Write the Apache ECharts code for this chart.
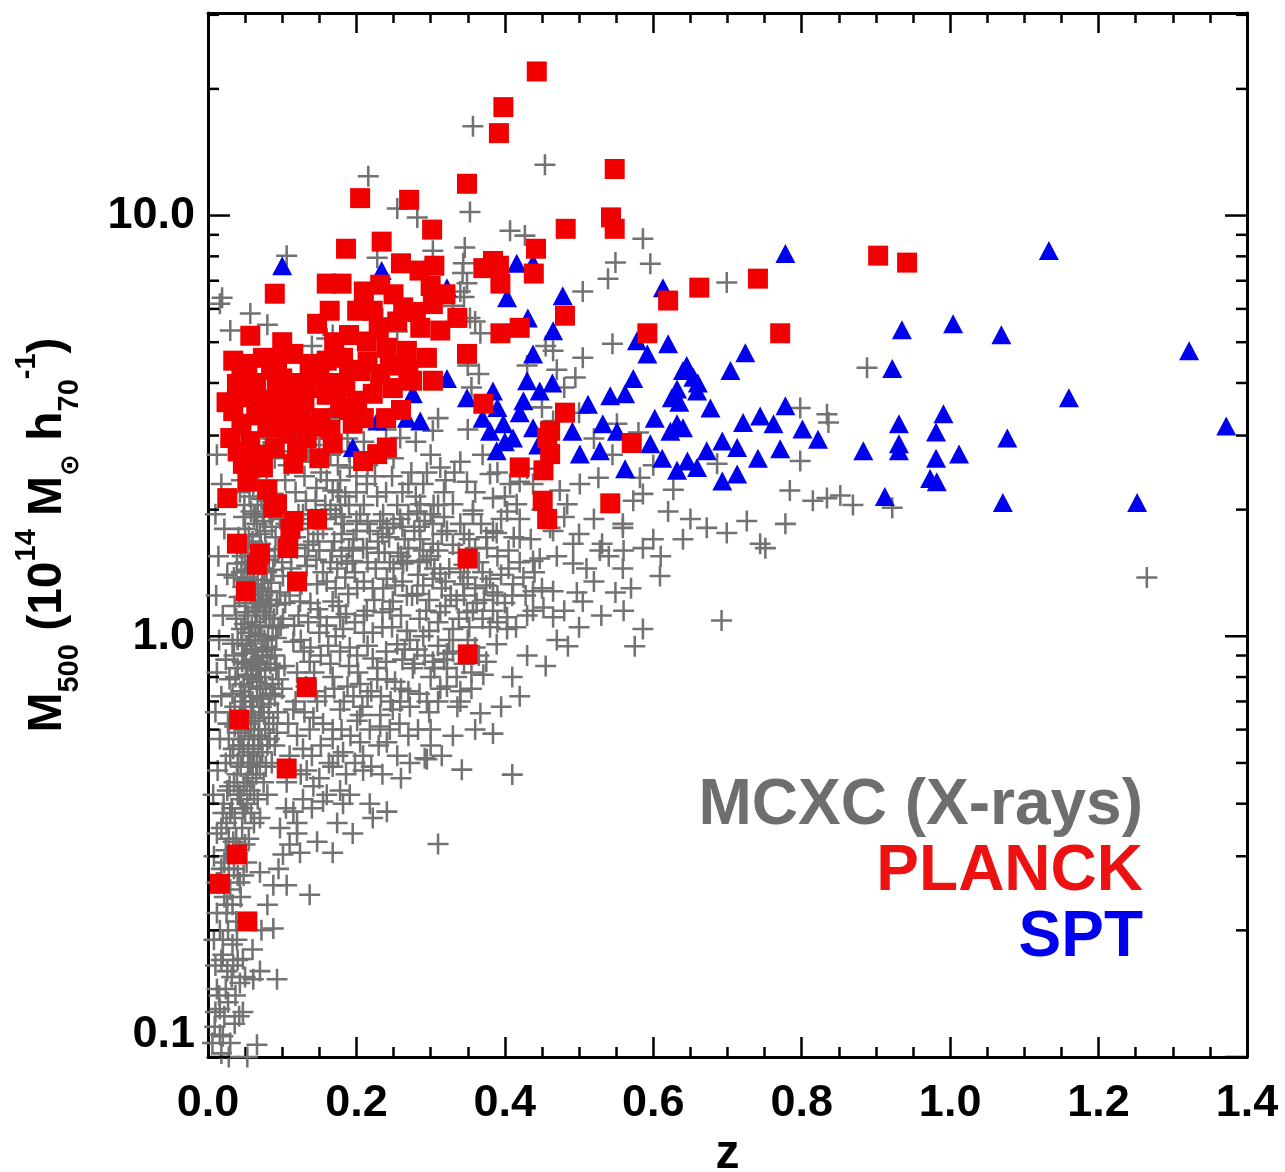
<!DOCTYPE html>
<html><head><meta charset="utf-8">
<script src="https://cdn.jsdelivr.net/npm/echarts@6/dist/echarts.min.js"></script>
<style>html,body{margin:0;padding:0;background:#fff}#c{width:1285px;height:1172px}</style>
</head><body><div id="c"></div>
<script>
// ---- axis settings / tick values ----
const xRange = [0, 1.4];
const xTickStep = 0.2;
const yRange = [0.1, 30.3];
const yMajorTickValues = [0.1, 1, 10];
const yMinorTickValues = [0.2,0.3,0.4,0.5,0.6,0.7,0.8,0.9,2,3,4,5,6,7,8,9,20,30];
const legendLabels = ['MCXC (X-rays)', 'PLANCK', 'SPT'];

// ---- MCXC (X-ray) clusters: [z, M500] ----
const mcxcHigh = [[0.216,12.4],[0.357,16.3],[0.454,13.2],[0.255,10.4],[0.282,9.9],[0.353,10.2],[0.407,9.2],[0.427,8.96],[0.346,8.4],[0.344,7.7],[0.349,6.9],[0.303,8.25],[0.228,7.94],[0.505,6.6],[0.106,8.03],[0.019,6.38],[0.586,8.81],[0.549,7.73],[0.596,7.68],[0.539,7.08],[0.699,6.93],[0.343,7.3],[0.345,6.4],
[0.160,5.1],[0.057,5.85],[0.030,5.33],[0.016,6.17],[0.353,5.71],[0.367,5.25],[0.235,5.7],[0.255,5.3],[0.168,5.2],[0.34,6.6],[0.33,6.1],[0.36,5.6],[0.26,4.4],[0.14,4.9],[0.08,5.5],[0.35,4.4],[0.365,4.2],[0.355,3.9],[0.455,4.9],[0.47,4.3],[0.43,4.4],[0.45,3.5],[0.48,3.9],[0.5,3.4]];
const mcxcMid = [[0.545,4.96],[0.505,4.59],[0.495,4.12],[0.465,4.77],[0.888,4.35],[0.798,3.49],[0.834,3.37],[0.836,3.22],[0.798,2.61],[0.784,2.22],[0.815,2.10],[0.834,2.13],[0.852,2.16],[0.869,2.05],[0.778,1.85],[0.726,1.88],[0.699,1.76],[0.672,1.81],[0.526,2.38],[0.501,2.3],[0.686,2.57],[0.582,2.38],[0.586,2.18],[0.573,2.10],[0.627,2.23],[0.551,3.2],[0.474,2.22],[0.484,2.06],[0.465,1.78],[0.492,1.66],[0.531,1.66],[0.559,1.85],[0.744,1.66],[0.465,3.25],[0.922,2.02],[1.265,1.38],[0.692,1.09],[0.586,1.04],[0.575,0.947],[0.485,0.947],[0.549,1.27],[0.609,1.39],[0.586,1.62],[0.559,1.45],[0.528,1.6],[0.497,1.27],[0.505,1.21],[0.465,1.11],[0.438,1.15],[0.403,1.11],[0.389,0.957],[0.371,0.81],[0.340,0.70],[0.367,0.656],[0.384,0.587],[0.292,0.513],[0.342,0.482],[0.410,0.469],[0.447,1.53],[0.42,1.5],[0.492,1.49],[0.465,1.28],[0.411,1.33],[0.384,1.27],[0.349,1.14],[0.313,1.14],[0.322,0.84],[0.303,0.87],[0.282,0.93],[0.268,1.03],[0.245,1.16],[0.209,1.62],[0.263,1.49],[0.313,1.41],[0.290,1.6],[0.249,0.67],[0.232,0.61],[0.205,0.65],[0.255,0.52],[0.209,0.48],[0.191,0.42],[0.182,0.53],[0.228,0.79],[0.201,0.90],[0.178,1.11],[0.222,1.3],[0.187,1.49],[0.376,1.62],[0.389,1.76],[0.461,1.81],[0.559,1.81],[0.751,1.62],
[0.52,2.95],[0.545,2.7],[0.58,3.05],[0.6,2.55],
[0.42,1.9],[0.435,1.7],[0.45,2.0],[0.47,1.55],[0.48,1.92],[0.5,1.75],[0.51,1.45],[0.52,1.9],[0.54,1.55],[0.56,1.6],[0.57,1.3],[0.6,1.7],[0.61,1.55],[0.62,1.98],[0.64,1.7],[0.65,1.9],[0.45,1.3],[0.48,1.15],[0.5,1.05],[0.52,1.35],[0.53,1.12],[0.56,1.15],[0.47,0.98],[0.43,0.9],[0.455,0.85],[0.41,0.8],[0.42,0.72],[0.395,0.68],[0.36,0.6],[0.33,0.58],[0.3,0.55],[0.315,0.52]];
const mcxcCloud = [[0.214,1.62],[0.241,1.81],[0.282,1.98],[0.322,1.78],[0.303,1.66],[0.268,1.51],[0.241,1.37],[0.201,1.3],[0.168,1.21],[0.151,1.11],[0.182,1.04],[0.214,1.15],[0.249,1.21],[0.282,1.26],[0.303,1.37],[0.344,1.33],[0.380,1.37],[0.438,1.51],[0.420,1.71],[0.384,1.78],[0.403,1.98],[0.357,1.95],[0.191,0.94],[0.222,0.886],[0.255,0.957],[0.276,0.839],[0.241,0.79],[0.205,0.77],[0.168,0.80],[0.137,0.87],[0.115,0.97],[0.101,1.1],[0.124,1.21],[0.147,1.33],[0.174,1.45],[0.195,1.51],[0.178,0.67],[0.147,0.70],[0.115,0.67],[0.093,0.59],[0.137,0.6],[0.168,0.6],[0.201,0.63],[0.232,0.65],[0.259,0.70],[0.295,0.70],[0.313,0.75],[0.241,0.56],[0.209,0.52],[0.168,0.49],[0.133,0.48],[0.106,0.45],[0.142,0.44],[0.178,0.43],[0.295,0.51],[0.336,0.68],[0.322,0.91],[0.330,1.04],[0.357,1.15],[0.384,1.15],[0.403,1.04],[0.438,1.28],[0.452,1.17],
[0.259,2.96],[0.303,3.08],[0.313,2.52],[0.349,2.33],[0.380,2.43],[0.407,2.3],[0.330,2.06],[0.357,1.99],[0.286,2.06],[0.259,1.9],[0.303,1.85],[0.340,1.85],[0.214,2.3],[0.191,2.52],[0.168,2.22],[0.420,2.33],[0.438,2.3],[0.384,2.13],[0.416,2.06],
[0.098,2.9],[0.112,2.75],[0.126,2.6],[0.14,2.85],[0.152,2.45],[0.165,2.7],[0.178,2.35],[0.188,2.95],[0.104,2.35],[0.118,2.2],[0.132,2.1],[0.146,2.25],[0.158,2.05],[0.172,1.95],[0.185,2.15],[0.128,1.95],[0.108,2.55],[0.16,3.1],
[0.105,1.85],[0.118,1.72],[0.131,1.55],[0.142,1.68],[0.155,1.42],[0.167,1.6],[0.18,1.75],[0.112,1.45],[0.126,1.33],[0.138,1.2],[0.15,1.02],[0.162,0.95],[0.176,1.18],[0.189,1.26],[0.116,1.06],[0.129,0.92],[0.143,0.82],
[0.215,2.55],[0.228,2.15],[0.236,1.95],[0.248,2.4],[0.262,2.2],[0.274,2.45],[0.29,2.3],[0.304,2.05],[0.318,2.2],[0.332,2.45],[0.265,1.7],[0.278,1.78],[0.295,1.52],[0.31,1.6],[0.325,1.45],[0.338,1.58],[0.352,1.7],[0.365,1.5],[0.226,1.45],[0.238,1.58],[0.252,1.32],[0.283,1.4],[0.298,1.22],[0.327,1.25],[0.36,1.3],[0.372,1.22],
[0.21,1.02],[0.235,1.05],[0.262,0.88],[0.29,1.0],[0.31,0.95],[0.335,0.8],[0.35,0.98],[0.365,0.9],[0.38,1.05],[0.27,0.74],[0.3,0.8],[0.24,0.92],[0.215,0.72],[0.188,0.76],[0.355,0.75],
[0.122,1.95],[0.135,1.85],[0.148,1.75],[0.158,1.9],[0.17,1.68],[0.183,1.85],[0.196,1.7],[0.205,1.95],[0.218,1.78],[0.229,1.68],[0.244,1.72],[0.256,1.58],[0.27,1.62],[0.286,1.7],[0.3,1.55],[0.315,1.75],[0.33,1.65],[0.345,1.48],[0.36,1.62],[0.375,1.72],[0.39,1.55],[0.405,1.6],[0.12,1.62],[0.133,1.47],[0.146,1.52],[0.16,1.35],[0.172,1.3],[0.185,1.38],[0.198,1.42],[0.21,1.35],[0.224,1.22],[0.236,1.3],[0.25,1.45],[0.262,1.35],[0.275,1.25],[0.29,1.32],[0.305,1.45],[0.32,1.35],[0.335,1.22],[0.35,1.38],[0.37,1.42],[0.395,1.4],[0.41,1.25],[0.425,1.38],[0.44,1.42],[0.11,1.25],[0.122,1.12],[0.135,1.08],[0.148,1.16],[0.16,1.06],[0.172,1.0],[0.186,1.13],[0.198,1.08],[0.21,1.12],[0.222,1.02],[0.235,1.14],[0.248,1.05],[0.26,1.12],[0.272,0.98],[0.285,1.1],[0.298,1.03],[0.31,1.08],[0.325,0.98],[0.338,1.1],[0.352,1.05],[0.37,1.1],[0.39,1.08],[0.415,1.05],[0.43,1.12],[0.125,0.98],[0.138,0.94],[0.152,0.9],[0.165,0.86],[0.178,0.92],[0.19,0.85],[0.202,0.82],[0.215,0.95],[0.228,0.84],[0.24,0.87],[0.252,0.78],[0.265,0.93],[0.278,0.86],[0.292,0.9],[0.305,0.84],[0.318,0.88],[0.33,0.92],[0.345,0.86],[0.36,0.94],[0.375,0.87],[0.12,0.82],[0.132,0.76],[0.145,0.74],[0.158,0.72],[0.17,0.75],[0.183,0.7],[0.196,0.72],[0.208,0.68],[0.22,0.74],[0.233,0.72],[0.246,0.7],[0.26,0.75],[0.272,0.68],[0.285,0.73],[0.298,0.66],[0.31,0.7],[0.322,0.76],[0.34,0.74],[0.355,0.82],[0.118,0.7],[0.13,0.66],[0.142,0.64],[0.155,0.62],[0.168,0.57],[0.18,0.6],[0.192,0.58],[0.205,0.56],[0.218,0.6],[0.23,0.55],[0.245,0.6],[0.258,0.62],[0.27,0.58],[0.283,0.6],[0.3,0.6],[0.12,0.58],[0.128,0.54],[0.14,0.52],[0.152,0.55],[0.163,0.5],[0.175,0.52],[0.186,0.47],[0.198,0.5],[0.22,0.49],[0.235,0.47],[0.26,0.46],[0.272,0.5],[0.11,0.52],[0.125,0.47],[0.15,0.46],[0.16,0.42],[0.14,0.39],[0.128,0.41],[0.12,0.36],[0.105,0.39],[0.11,0.32],[0.095,0.28],[0.08,0.23],[0.072,0.2],[0.06,0.18],[0.05,0.155],[0.07,0.16],
[0.2,2.4],[0.25,2.65],[0.27,2.3],[0.3,2.7],[0.32,2.35],[0.34,2.6],[0.36,2.2],[0.37,2.7],[0.39,2.45],[0.4,2.15],[0.43,2.5],[0.35,3.1],[0.31,3.3],[0.28,2.9],[0.24,3.1],[0.21,2.9],
[0.262,1.82],[0.292,1.88],[0.318,1.92],[0.345,1.75],[0.368,1.85],[0.395,1.9],[0.412,1.72],[0.285,1.5],[0.315,1.3],[0.34,1.42],[0.362,1.2],[0.39,1.25],[0.405,1.45],[0.428,1.25],[0.268,1.25],[0.294,1.15],[0.32,1.18],[0.345,1.25],[0.375,1.32],[0.4,1.2],[0.232,1.88],[0.2,1.88],[0.178,2.05],[0.19,1.62],
[0.13,2.4],[0.145,2.1],[0.16,2.35],[0.175,2.2],[0.19,2.05],[0.2,2.2],[0.21,2.05],[0.225,2.4],[0.24,2.2],[0.255,2.05],[0.14,1.9],[0.155,1.8],[0.165,2.0],[0.18,1.92],[0.2,1.78],[0.215,1.85],[0.235,1.75],[0.25,1.85],[0.27,1.95],[0.285,1.82],[0.12,1.8],[0.135,1.65],[0.15,1.6],[0.165,1.5],[0.18,1.55],[0.195,1.6],[0.215,1.5],[0.23,1.58],[0.245,1.5],[0.26,1.55],[0.3,1.95],[0.28,2.15],[0.295,2.45],[0.31,2.05]];
const mcxcLow = [[0.310,0.321],[0.241,0.383],[0.222,0.37],[0.195,0.34],[0.168,0.306],[0.137,0.243],[0.093,0.153],[0.088,0.202],[0.047,0.128],[0.061,0.153],[0.043,0.15],[0.047,0.171],[0.016,0.113],[0.066,0.107],[0.016,0.13],[0.124,0.306],[0.101,0.303],[0.106,0.256],[0.088,0.256],[0.070,0.275],[0.147,0.325],[0.120,0.34],[0.097,0.35],[0.070,0.37],[0.115,0.383],[0.155,0.405],[0.182,0.40],[0.218,0.40],[0.174,0.36],[0.034,0.325],[0.026,0.23],[0.016,0.2],[0.039,0.19],[0.020,0.175],[0.030,0.38],[0.007,0.42],[0.043,0.42],[0.080,0.42],[0.053,0.1],
[0.008,0.3],[0.012,0.26],[0.008,0.19],[0.01,0.128],[0.006,0.108],[0.024,0.145],[0.034,0.165],[0.028,0.28],[0.012,0.34],[0.02,0.38]];
const mcxcColumn = [[0.052,2.45],[0.061,2.28],[0.072,2.12],[0.058,1.98],[0.066,1.85],[0.048,1.92],[0.077,1.78],[0.083,1.95],[0.091,1.72],[0.055,1.73],[0.044,1.62],[0.063,1.58],[0.071,1.66],[0.082,1.52],[0.095,1.61],[0.039,1.49],[0.052,1.44],[0.067,1.41],[0.076,1.36],[0.088,1.44],[0.101,1.39],[0.047,1.31],[0.058,1.26],[0.069,1.22],[0.081,1.28],[0.093,1.19],[0.036,1.18],[0.054,1.12],[0.064,1.08],[0.075,1.14],[0.087,1.05],[0.045,1.04],[0.057,0.98],[0.068,1.01],[0.079,0.94],[0.092,0.99],[0.033,0.96],[0.049,0.91],[0.061,0.88],[0.073,0.92],[0.084,0.86],[0.040,0.84],[0.053,0.81],[0.066,0.78],[0.077,0.83],[0.095,0.79],[0.029,0.79],[0.044,0.74],[0.057,0.72],[0.070,0.75],[0.082,0.69],[0.036,0.68],[0.050,0.66],[0.063,0.63],[0.075,0.66],[0.088,0.62],[0.027,0.62],[0.041,0.59],[0.055,0.57],[0.068,0.6],[0.080,0.55],[0.034,0.54],[0.047,0.52],[0.060,0.5],[0.073,0.53],[0.024,0.5],[0.039,0.47],[0.052,0.45],[0.065,0.47],[0.086,0.5],[0.029,0.44],[0.044,0.41],[0.057,0.43],[0.021,0.4],[0.036,0.37],[0.050,0.38],[0.062,0.36],[0.018,0.35],[0.028,0.33],[0.042,0.31],[0.055,0.33],[0.022,0.29],[0.035,0.28],[0.048,0.27],[0.015,0.26],[0.030,0.25],[0.044,0.24],[0.025,0.22],[0.038,0.21],[0.012,0.22],[0.020,0.19],[0.033,0.185],[0.010,0.165],[0.026,0.16],[0.037,0.14],[0.012,0.145],[0.022,0.125],[0.009,0.118],[0.030,0.108],[0.018,0.102],
[0.012,2.7],[0.018,2.3],[0.010,1.95],[0.022,1.8],[0.014,1.55],[0.026,1.4],[0.011,1.25],[0.020,1.12],[0.015,0.98],[0.024,0.88],[0.012,0.82],[0.018,0.72],[0.010,0.66],[0.016,0.57],[0.013,0.48],
[0.043,2.2],[0.067,2.05],[0.079,2.35],[0.088,2.18],[0.05,1.8],[0.06,1.68],[0.074,1.95],[0.086,1.82],[0.097,1.9],[0.041,1.72],[0.046,1.55],[0.056,1.5],[0.068,1.48],[0.078,1.6],[0.09,1.55],[0.035,1.38],[0.048,1.36],[0.061,1.33],[0.072,1.3],[0.085,1.34],[0.097,1.27],[0.042,1.24],[0.051,1.2],[0.063,1.17],[0.074,1.25],[0.082,1.18],[0.089,1.1],[0.038,1.1],[0.049,1.07],[0.059,1.05],[0.07,1.06],[0.081,1.0],[0.098,1.06],[0.04,0.98],[0.052,0.95],[0.064,0.93],[0.076,0.98],[0.086,0.93],[0.035,0.9],[0.046,0.87],[0.058,0.85],[0.069,0.84],[0.08,0.89],[0.092,0.84],[0.037,0.8],[0.048,0.77],[0.06,0.79],[0.071,0.8],[0.087,0.77],[0.033,0.73],[0.047,0.7],[0.061,0.68],[0.074,0.71],[0.09,0.72],[0.03,0.66],[0.043,0.64],[0.058,0.65],[0.069,0.64],[0.082,0.64],[0.036,0.61],[0.05,0.6],[0.062,0.58],[0.077,0.6],[0.028,0.57],[0.042,0.55],[0.054,0.53],[0.068,0.55],[0.083,0.57],[0.03,0.52],[0.044,0.49],[0.057,0.5],[0.07,0.49],[0.035,0.45],[0.048,0.44],[0.06,0.46],[0.075,0.45],[0.026,0.43],[0.04,0.42],[0.053,0.4],[0.067,0.41],[0.032,0.39],[0.046,0.35],[0.058,0.38],[0.025,0.36],[0.038,0.33],[0.05,0.32],[0.024,0.31],[0.04,0.27],[0.052,0.29],[0.018,0.28],[0.033,0.23],[0.043,0.26],[0.022,0.24],[0.027,0.2],[0.04,0.17],[0.018,0.17],[0.032,0.155],[0.015,0.14],[0.027,0.135],[0.042,0.125],[0.02,0.112],[0.036,0.12],[0.028,0.1],
[0.06,2.6],[0.075,2.75],[0.09,2.65],[0.1,3.2],[0.12,3.0],[0.135,2.75],[0.15,2.95],[0.165,3.3],[0.175,2.55],[0.19,2.75],[0.055,3.0],[0.07,3.2],[0.085,2.95],
[0.056,2.15],[0.064,1.95],[0.07,1.75],[0.059,1.62],[0.066,1.55],[0.053,1.38],[0.073,1.45],[0.06,1.2],[0.066,1.15],[0.055,1.02],[0.072,1.0],[0.06,0.92],[0.067,0.87],[0.055,0.76],[0.066,0.72],[0.052,0.62],[0.072,0.57],[0.061,0.54],[0.045,0.57],[0.066,0.5],[0.054,0.47],[0.062,0.42],[0.047,0.39],[0.078,1.12],[0.085,1.22],[0.09,0.9],[0.095,1.05],[0.1,1.5],[0.104,1.2],[0.084,0.73],[0.094,0.66],[0.1,0.75],[0.103,0.85],[0.108,0.62],[0.078,0.49],[0.09,0.55],
[0.045,2.35],[0.058,2.4],[0.068,2.3],[0.08,2.1],[0.049,2.05],[0.062,1.92],[0.075,1.88],[0.054,1.62],[0.074,1.52],[0.05,1.5],[0.062,1.45],[0.079,1.42],[0.045,1.42],[0.057,1.32],[0.067,1.28],[0.078,1.22],[0.05,1.14],[0.07,1.2],[0.083,1.1],[0.046,0.96],[0.063,1.0],[0.074,0.9],[0.051,0.86],[0.078,0.76],[0.065,0.83],[0.05,0.72],[0.06,0.7],[0.072,0.68],[0.044,0.66],[0.058,0.6],[0.068,0.58],[0.048,0.55],[0.062,0.52],[0.04,0.5]];

// ---- PLANCK SZ clusters: [z, M500] ----
const planck = [[0.443,22.0],[0.398,18.1],[0.392,15.7],[0.349,11.9],[0.205,11.0],[0.271,10.9],[0.548,12.9],[0.543,9.9],[0.548,9.3],[0.302,9.26],[0.482,9.3],[0.186,8.34],[0.234,8.67],[0.442,8.34],[0.439,7.28],[0.384,7.8],[0.090,6.52],[0.160,6.89],[0.180,6.89],[0.26,7.7],[0.285,7.4],[0.305,7.6],[0.232,6.85],[0.371,7.5],[0.392,7.6],[0.394,6.89],[0.057,5.18],[0.147,5.53],[0.164,5.94],[0.201,5.94],[0.222,5.94],[0.263,6.05],[0.303,6.16],[0.336,5.71],[0.286,5.41],[0.313,5.33],[0.394,5.25],[0.420,5.41],[0.349,4.69],[0.214,5.02],[0.241,4.85],[0.268,4.77],[0.295,4.59],[0.303,4.05],[0.371,3.57],[0.034,4.52],[0.053,4.44],[0.074,4.59],[0.093,4.52],[0.115,4.69],[0.137,4.44],[0.160,4.52],[0.182,4.59],[0.205,4.27],[0.232,4.2],[0.249,3.89],[0.039,3.98],[0.061,3.83],[0.093,3.98],[0.111,3.83],[0.142,3.89],[0.178,3.49],[0.201,3.63],[0.222,3.77],[0.034,3.43],[0.070,3.43],[0.097,3.49],[0.124,3.43],[0.151,3.30],[0.195,3.2],[0.080,3.13],[0.106,3.03],[0.030,2.96],[0.057,2.91],[0.133,2.96],[0.168,2.87],[0.228,2.71],[0.209,2.61],[0.241,2.81],[0.047,2.57],[0.074,2.52],[0.115,2.57],[0.053,2.33],[0.080,2.23],[0.026,2.13],[0.093,2.06],[0.147,1.9],[0.115,1.88],[0.420,2.52],[0.457,2.96],[0.451,2.10],[0.457,1.9],[0.039,1.66],[0.070,1.57],[0.051,1.28],[0.111,1.80],[0.120,1.35],[0.108,1.62],[0.066,1.48],[0.350,1.53],[0.350,0.906],[0.133,0.757],[0.042,0.634],[0.106,0.485],[0.088,2.02],[0.039,0.303],[0.016,0.258],[0.053,0.21],[0.481,5.78],[0.620,6.28],[0.662,6.74],[0.741,7.08],[0.771,5.25],[0.903,8.03],[0.942,7.73],[0.592,5.25],[0.481,3.4],[0.461,3.08],[0.461,2.71],[0.452,2.48],[0.571,2.88],[0.542,2.07],[0.025,3.6],
[0.045,4.1],[0.065,4.0],[0.085,4.3],[0.1,4.1],[0.125,4.0],[0.15,4.15],[0.17,4.0],[0.19,4.3],[0.215,4.5],[0.245,4.4],[0.27,4.3],[0.05,3.7],[0.08,3.65],[0.105,3.7],[0.13,3.65],[0.16,3.75],[0.185,3.9],[0.045,3.2],[0.065,3.35],[0.09,3.3],[0.115,3.2],[0.14,3.15],[0.165,3.1],[0.19,3.45],[0.21,3.3],[0.04,2.75],[0.065,2.7],[0.09,2.8],[0.12,2.75],[0.15,2.65],[0.19,5.2],[0.23,5.4],[0.255,5.6],[0.28,5.9],[0.32,6.5],[0.17,5.0],[0.1,5.0],[0.25,6.5],[0.21,6.6],[0.3,6.8],[0.275,4.05],[0.26,3.45],[0.24,3.3]];

// ---- SPT SZ clusters: [z, M500] ----
const spt = [[0.778,8.12],[0.613,6.74],[0.478,6.45],[0.465,5.32],[0.578,5.04],[0.620,4.96],[0.592,4.69],[0.724,4.72],[0.704,4.28],[0.464,4.0],[0.573,4.1],[0.640,4.28],[0.654,4.13],[0.632,3.87],[0.659,3.83],[0.625,3.69],[0.542,3.73],[0.562,3.77],[0.512,3.56],[0.677,3.49],[0.602,3.30],[0.532,3.2],[0.632,3.2],[0.721,3.22],[0.744,3.34],[0.762,3.20],[0.778,3.53],[0.801,3.11],[0.822,2.94],[0.883,2.76],[0.491,3.07],[0.551,3.07],[0.501,2.71],[0.528,2.76],[0.596,2.87],[0.623,3.07],[0.640,3.13],[0.612,2.65],[0.562,2.50],[0.632,2.48],[0.659,2.52],[0.693,2.34],[0.713,2.43],[0.693,2.91],[0.713,2.81],[0.741,2.65],[0.771,2.79],[0.672,2.76],[0.646,2.61],[0.645,4.4],[0.66,4.0],[0.635,3.6],
[1.133,8.26],[0.935,5.35],[1.004,5.53],[1.069,5.21],[1.322,4.77],[0.922,4.33],[1.160,3.69],[1.372,3.16],[0.931,3.2],[0.991,3.38],[0.981,3.06],[1.077,2.96],[0.931,2.87],[0.931,2.76],[0.981,2.65],[1.012,2.71],[0.973,2.37],[0.982,2.33],[0.912,2.15],[1.071,2.08],[1.252,2.08],
[0.100,7.6],[0.416,7.7],[0.438,7.7],[0.234,7.4],[0.322,6.74],[0.403,6.38],[0.431,5.71],[0.438,4.69],[0.322,4.1],[0.349,3.69],[0.384,3.83],[0.276,3.77],[0.430,4.05],[0.425,3.63],[0.447,3.83],[0.174,3.83],[0.228,3.25],[0.268,3.30],[0.286,3.25],[0.380,3.07],[0.398,3.2],[0.411,2.96],[0.389,2.76],[0.438,3.13],[0.195,2.81],[0.37,3.3],[0.40,2.9],[0.42,3.4],[0.445,2.85],[0.39,3.5]];

const mcxc = [].concat(mcxcColumn, mcxcLow, mcxcCloud, mcxcMid, mcxcHigh);

const FONT = 'Liberation Sans, Arial, Helvetica, sans-serif';
const crossPath = 'path://M8.8,0H11.2V8.8H20V11.2H11.2V20H8.8V11.2H0V8.8H8.8Z';

const chart = echarts.init(document.getElementById('c'), null, {renderer: 'canvas'});

const axisLineStyle = {show: true, onZero: false, lineStyle: {color: '#000', width: 3}};
const xCommon = {
  type: 'value', min: xRange[0], max: xRange[1], interval: xTickStep,
  axisLine: axisLineStyle,
  axisTick: {show: true, inside: true, length: 20, lineStyle: {color: '#000', width: 2.5}},
  minorTick: {show: true, splitNumber: 4, length: 10, lineStyle: {color: '#000', width: 2.5}},
  splitLine: {show: false}, minorSplitLine: {show: false}
};
const yCommon = {
  type: 'log', logBase: 10, min: yRange[0], max: yRange[1],
  axisLine: axisLineStyle,
  axisTick: {show: false},
  splitLine: {show: false}
};

// y-axis ticks (major + minor) drawn inward on both frame sides through the axis scale
const yTickData = yMajorTickValues.map(v => [xRange[0], v, 22]).concat(yMinorTickValues.map(v => [xRange[0], v, 11]));

chart.setOption({
  animation: false,
  backgroundColor: '#fff',
  grid: {left: 208, right: 38, top: 13, bottom: 115, containLabel: false, outerBoundsMode: 'none'},
  xAxis: [
    Object.assign({}, xCommon, {
      position: 'bottom',
      name: 'z', nameLocation: 'middle', nameGap: 62,
      nameTextStyle: {fontFamily: FONT, fontWeight: 'bold', fontSize: 48, color: '#000'},
      axisLabel: {show: true, margin: 24, fontFamily: FONT, fontWeight: 'bold', fontSize: 45, color: '#000',
        formatter: v => v.toFixed(1)}
    }),
    Object.assign({}, xCommon, {position: 'top', axisLabel: {show: false}})
  ],
  yAxis: [
    Object.assign({}, yCommon, {
      position: 'left',
      name: '{b|M}{sub|500}{b| (10}{sup|14}{b| M}{subs|⊙}{b| h}{sub|70}{sup|-1}{b|)}',
      nameLocation: 'middle', nameRotate: 90, nameGap: 124,
      nameTextStyle: {
        fontFamily: FONT, fontWeight: 'bold', fontSize: 48, color: '#000',
        rich: {
          b: {fontFamily: FONT, fontWeight: 'bold', fontSize: 48, lineHeight: 72, verticalAlign: 'middle', color: '#000'},
          sub: {fontFamily: FONT, fontWeight: 'bold', fontSize: 29, lineHeight: 28, verticalAlign: 'bottom', color: '#000'},
          subs: {fontFamily: 'DejaVu Sans', fontSize: 26, lineHeight: 30, verticalAlign: 'bottom', color: '#000'},
          sup: {fontFamily: FONT, fontWeight: 'bold', fontSize: 29, lineHeight: 48, verticalAlign: 'top', color: '#000'}
        }
      },
      axisLabel: {show: true, margin: 13, fontFamily: FONT, fontWeight: 'bold', fontSize: 45, color: '#000',
        showMaxLabel: false, verticalAlignMinLabel: 'bottom',
        formatter: v => Number(v).toFixed(1)}
    }),
    Object.assign({}, yCommon, {position: 'right', axisLabel: {show: false}})
  ],
  series: [
    {
      name: legendLabels[0], type: 'scatter', xAxisIndex: 0, yAxisIndex: 0,
      data: mcxc, symbol: crossPath, symbolSize: 21, z: 2,
      itemStyle: {color: '#727272', opacity: 1}, emphasis: {disabled: true}, silent: true
    },
    {
      name: legendLabels[2], type: 'scatter', xAxisIndex: 0, yAxisIndex: 0,
      data: spt, symbol: 'triangle', symbolSize: [20, 19], z: 3,
      itemStyle: {color: '#0000f0', opacity: 1}, emphasis: {disabled: true}, silent: true
    },
    {
      name: legendLabels[1], type: 'scatter', xAxisIndex: 0, yAxisIndex: 0,
      data: planck, symbol: 'rect', symbolSize: 20, z: 4,
      itemStyle: {color: '#f00000', opacity: 1}, emphasis: {disabled: true}, silent: true
    },
    {
      type: 'custom', xAxisIndex: 0, yAxisIndex: 0, silent: true, clip: false, z: 10,
      data: yTickData,
      renderItem: function (params, api) {
        const v = api.value(1);
        const len = api.value(2);
        const l = api.coord([xRange[0], v]);
        const r = api.coord([xRange[1], v]);
        const st = {stroke: '#000', lineWidth: 2.5};
        return {type: 'group', children: [
          {type: 'line', shape: {x1: l[0], y1: l[1], x2: l[0] + len, y2: l[1]}, style: st},
          {type: 'line', shape: {x1: r[0] - len, y1: r[1], x2: r[0], y2: r[1]}, style: st}
        ]};
      }
    }
  ],
  graphic: [
    {type: 'text', x: 1143, y: 806, z: 20, style: {text: legendLabels[0], fill: '#6e6e6e', font: 'bold 64px ' + FONT, textAlign: 'right', textVerticalAlign: 'middle'}},
    {type: 'text', x: 1143, y: 872, z: 20, style: {text: legendLabels[1], fill: '#ee1111', font: 'bold 64px ' + FONT, textAlign: 'right', textVerticalAlign: 'middle'}},
    {type: 'text', x: 1143, y: 938, z: 20, style: {text: legendLabels[2], fill: '#0000ee', font: 'bold 64px ' + FONT, textAlign: 'right', textVerticalAlign: 'middle'}}
  ]
});
</script>
</body></html>
